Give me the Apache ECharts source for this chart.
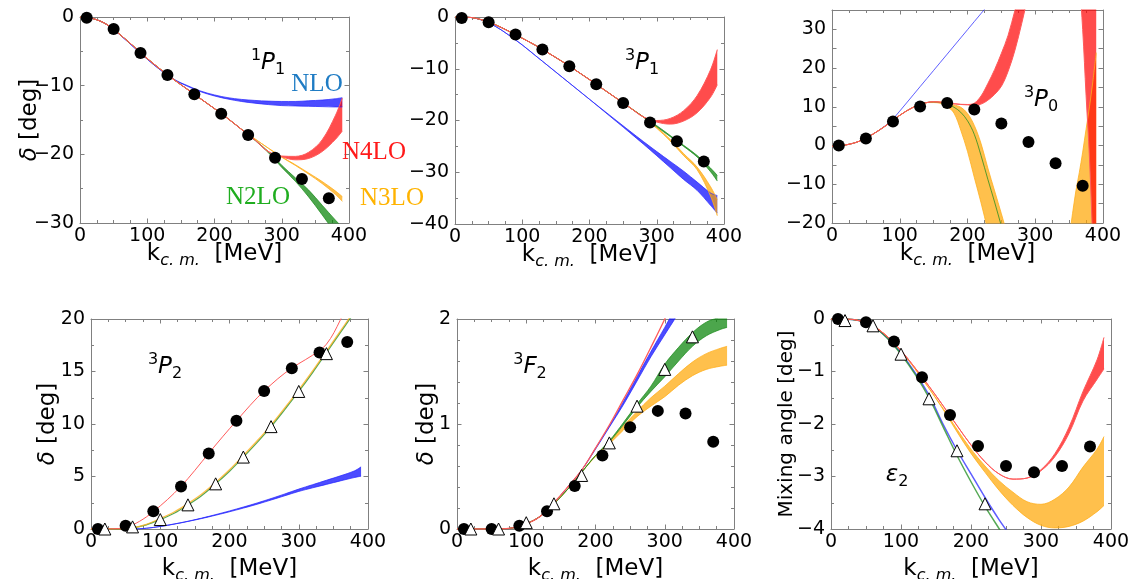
<!DOCTYPE html>
<html><head><meta charset="utf-8">
<script src="https://cdn.jsdelivr.net/npm/echarts@6/dist/echarts.min.js"></script>
<style>html,body{margin:0;padding:0;background:#fff}#c{width:1129px;height:579px}</style>
</head><body><div id="c"></div>
<script>
// ---------- data ----------
const X20 = [0,20,40,60,80,100,120,140,160,180,200,220,240,260,280,300,320,340,360,380,390];
const DOT_X = [10,50,90,130,170,210,250,290,330,370];
const TRI_X = [20,60,100,140,180,220,260,300,340];
const TRI_X6 = [20,60,100,140,180,220];

// 1P1
const P1_NLO_LO = [0,-0.25,-1.1,-2.65,-4.4,-6.15,-7.75,-9.1,-10.1,-10.9,-11.5,-11.95,-12.3,-12.55,-12.75,-12.9,-12.95,-13.0,-13.05,-13.1,-13.1];
const P1_NLO_HI = [0,-0.25,-1.1,-2.65,-4.4,-6.15,-7.75,-9.1,-10.0,-10.8,-11.35,-11.75,-12.0,-12.15,-12.25,-12.3,-12.3,-12.2,-12.1,-11.9,-11.75];
const P1_N2LO_LO = [0,-0.25,-1.1,-2.6,-4.3,-6.05,-7.65,-9.15,-10.55,-11.95,-13.35,-14.8,-16.35,-17.95,-19.75,-21.9,-23.9,-26.2,-28.8,-31.5,-32.8];
const P1_N2LO_HI = [0,-0.25,-1.1,-2.6,-4.3,-6.05,-7.65,-9.15,-10.55,-11.95,-13.35,-14.8,-16.35,-17.9,-19.6,-21.6,-23.4,-25.2,-27.4,-29.6,-30.6];
const P1_N3LO_LO = [0,-0.25,-1.1,-2.6,-4.3,-6.05,-7.65,-9.15,-10.55,-11.95,-13.35,-14.8,-16.35,-17.75,-19.1,-20.43,-21.6,-22.88,-24.25,-25.85,-26.85];
const P1_N3LO_HI = [0,-0.25,-1.1,-2.6,-4.3,-6.05,-7.65,-9.15,-10.55,-11.95,-13.35,-14.8,-16.35,-17.75,-19.1,-20.37,-21.5,-22.72,-23.95,-25.35,-26.15];
const P1_N4LO_LO = [0,-0.25,-1.1,-2.6,-4.3,-6.05,-7.65,-9.15,-10.55,-11.95,-13.35,-14.8,-16.35,-17.9,-19.6,-20.35,-20.8,-20.6,-19.6,-17.8,-16.6];
const P1_N4LO_HI = [0,-0.25,-1.1,-2.6,-4.3,-6.05,-7.65,-9.15,-10.55,-11.95,-13.35,-14.8,-16.35,-17.9,-19.6,-20.25,-20.3,-19.7,-17.9,-14.3,-11.8];
const P1_DOTS = [-0.1,-1.75,-5.24,-8.45,-11.26,-14.08,-17.2,-20.5,-23.6,-26.4];

// 3P1
const P2_NLO_LO = [0,-0.05,-0.6,-1.8,-3.5,-5.4,-7.5,-9.6,-11.7,-13.8,-15.9,-18.05,-20.2,-22.35,-24.55,-26.8,-29.1,-31.4,-33.5,-36.4,-37.9];
const P2_NLO_HI = [0,-0.05,-0.6,-1.8,-3.5,-5.4,-7.5,-9.6,-11.7,-13.8,-15.9,-17.95,-20.0,-22.05,-24.05,-26.0,-27.9,-29.8,-31.9,-34.0,-34.5];
const P2_N2LO_LO = [0,-0.05,-0.55,-1.5,-2.75,-4.1,-5.5,-7.05,-8.65,-10.35,-12.1,-13.9,-15.7,-17.5,-19.3,-21.2,-23.1,-25.0,-27.05,-29.9,-31.7];
const P2_N2LO_HI = [0,-0.05,-0.55,-1.5,-2.75,-4.1,-5.5,-7.05,-8.65,-10.35,-12.1,-13.9,-15.7,-17.5,-19.3,-21.0,-22.9,-24.8,-26.75,-29.2,-30.6];
const P2_N3LO_LO = [0,-0.05,-0.55,-1.5,-2.75,-4.1,-5.5,-7.05,-8.65,-10.35,-12.1,-13.9,-15.7,-17.5,-19.3,-21.5,-23.95,-26.8,-29.5,-34.6,-38.4];
const P2_N3LO_HI = [0,-0.05,-0.55,-1.5,-2.75,-4.1,-5.5,-7.05,-8.65,-10.35,-12.1,-13.9,-15.7,-17.5,-19.3,-21.3,-23.65,-26.4,-29.0,-32.8,-35.3];
const P2_N4LO_LO = [0,-0.05,-0.55,-1.5,-2.75,-4.1,-5.5,-7.05,-8.65,-10.35,-12.1,-13.9,-15.7,-17.5,-19.3,-20.3,-20.7,-20.1,-18.5,-15.5,-13.1];
const P2_N4LO_HI = [0,-0.05,-0.55,-1.5,-2.75,-4.1,-5.5,-7.05,-8.65,-10.35,-12.1,-13.9,-15.7,-17.5,-19.3,-20.0,-19.6,-18.1,-15.2,-10.2,-6.3];
const P2_DOTS = [-0.2,-1.0,-3.4,-6.3,-9.5,-13.0,-16.6,-20.4,-24.0,-27.9];

// 3P0
const P3_NLO_X = [0,20,40,60,80,90,100,120,140,160,180,200,220,240];
const P3_NLO = [-0.2,0.15,1.1,2.9,5.3,6.9,8.9,13.1,17.3,21.5,25.7,29.9,34.1,38.3];
const P3_N2LO_X = [0,20,40,60,80,100,120,140,150,160,170,180,190,200,210,220,230,240,250,260];
const P3_N2LO = [-0.2,0.15,1.1,2.9,5.2,7.8,9.9,11.1,11.25,11.1,10.7,9.9,8.6,6.4,2.9,-2.6,-8.7,-14.6,-20.8,-27];
const P3_N3LO_X = [0,20,40,60,80,100,120,140,150,160,170,180,190,200,210,220,230,240,250,260,280,300,320,340,350,355,360,365,370,375,380,385,390];
const P3_N3LO_LO = [-0.2,0.15,1.1,2.9,5.2,7.8,9.9,11.1,11.1,10.9,10.1,8.4,4.0,-1.5,-8.2,-14.8,-22,-30,-38,-46,-60,-70,-75,-78,-80,-80,-80,-80,-80,-80,-80,-80,-80];
const P3_N3LO_HI = [-0.2,0.15,1.1,2.9,5.2,7.8,9.9,11.1,11.3,11.25,11.0,10.5,9.9,8.3,5.2,0.5,-5.8,-11.7,-17.6,-23.6,-34,-40,-40,-31,-23.5,-17.6,-11.7,-7.0,-1.7,4.2,10.0,16.5,24];
const P3_N4LO_X = [0,20,40,60,80,100,120,140,150,160,170,180,190,200,210,220,230,240,250,260,270,280,290,300,320,340,350,360,365,370,375,380,385,390];
const P3_N4LO_LO = [-0.2,0.15,1.1,2.9,5.2,7.8,9.9,11.1,11.3,11.2,11.0,10.8,10.6,10.5,10.45,10.7,11.7,13.2,15.3,19.2,24.6,31.5,39,46,56,60,57,48,42,30,13,-3,-25,-45];
const P3_N4LO_HI = [-0.2,0.15,1.1,2.9,5.2,7.8,9.9,11.1,11.3,11.2,11.0,10.8,10.65,10.6,10.95,12.8,16.0,19.6,23.8,28.5,34.9,41,48,55,68,78,82,85,86,87,88,89,90,90];
const P3_DOTS = [0,1.8,6.2,10.1,11.0,9.3,5.7,0.9,-4.6,-10.4];

// 3P2
const P4_NLO_LO = [0,0,0,0,0.07,0.24,0.46,0.72,1.0,1.31,1.64,1.99,2.36,2.76,3.17,3.58,3.92,4.25,4.58,4.9,5.03];
const P4_NLO_HI = [0,0,0,0,0.07,0.25,0.48,0.74,1.04,1.37,1.72,2.09,2.48,2.9,3.34,3.8,4.22,4.64,5.06,5.52,5.92];
const P4_N2LO = [0,0,0,0.1,0.4,0.9,1.5,2.3,3.2,4.3,5.5,6.85,8.25,9.75,11.4,13.1,14.9,16.8,18.7,20.6,21.6];
const P4_N3LO = [0,0,0,0.12,0.45,1.0,1.62,2.42,3.33,4.44,5.65,7.0,8.4,9.9,11.55,13.25,15.05,16.95,18.85,20.75,21.75];
const P4_N4LO = [0,0,0.05,0.4,1.15,2.2,3.4,4.8,6.4,8.0,9.55,11.05,12.5,13.75,14.85,15.75,16.55,17.6,19.9,23,25];
const P4_DOTS = [0,0.3,1.7,4.05,7.2,10.3,13.15,15.3,16.8,17.8];
const P4_TRI = [0,0.2,0.9,2.3,4.3,6.85,9.75,13.1,16.7];

// 3F2
const P5_NLO_LO = [0,0,0,0,0.01,0.05,0.12,0.25,0.4,0.56,0.76,0.97,1.18,1.41,1.64,1.85,2.06,2.3,2.5,2.7,2.8];
const P5_NLO_HI = [0,0,0,0,0.01,0.05,0.12,0.25,0.4,0.56,0.77,0.98,1.21,1.45,1.69,1.92,2.16,2.4,2.6,2.8,2.9];
const P5_N2LO_LO = [0,0,0,0,0.01,0.05,0.12,0.24,0.38,0.54,0.7,0.83,0.99,1.16,1.31,1.45,1.6,1.74,1.84,1.9,1.92];
const P5_N2LO_HI = [0,0,0,0,0.01,0.05,0.12,0.24,0.38,0.54,0.7,0.84,1.01,1.19,1.36,1.57,1.73,1.87,1.97,2.02,2.05];
const P5_N3LO_LO = [0,0,0,0,0.01,0.05,0.12,0.24,0.38,0.54,0.69,0.81,0.94,1.07,1.17,1.26,1.37,1.46,1.52,1.55,1.56];
const P5_N3LO_HI = [0,0,0,0,0.01,0.05,0.12,0.24,0.38,0.54,0.7,0.83,0.98,1.12,1.25,1.36,1.48,1.59,1.67,1.72,1.74];
const P5_N4LO = [0,0,0,0,0.01,0.05,0.12,0.25,0.4,0.56,0.77,0.99,1.23,1.47,1.73,2.0,2.3,2.6,2.9,3.2,3.35];
const P5_DOTS = [0,0,0.03,0.17,0.41,0.70,0.97,1.125,1.10,0.83];
const P5_TRI = [0,0,0.06,0.24,0.51,0.82,1.17,1.52,1.83];

// epsilon2
const P6_NLO = [0,0,-0.03,-0.14,-0.35,-0.65,-1.02,-1.45,-2.0,-2.5,-2.95,-3.4,-3.82,-4.2,-4.6,-5,-5.4,-5.8,-6.2,-6.6,-6.8];
const P6_N2LO = [0,0,-0.03,-0.14,-0.36,-0.67,-1.05,-1.5,-2.05,-2.6,-3.1,-3.57,-3.99,-4.4,-4.8,-5.2,-5.6,-6,-6.4,-6.8,-7];
const P6_N3LO_LO = [0,0,-0.03,-0.13,-0.33,-0.61,-0.95,-1.32,-1.72,-2.15,-2.56,-2.92,-3.26,-3.55,-3.78,-3.93,-3.98,-3.95,-3.85,-3.67,-3.55];
const P6_N3LO_HI = [0,0,-0.03,-0.13,-0.33,-0.61,-0.95,-1.32,-1.7,-2.1,-2.48,-2.8,-3.08,-3.3,-3.48,-3.53,-3.43,-3.2,-2.82,-2.48,-2.24];
const P6_N4LO_LO = [0,0,-0.03,-0.13,-0.33,-0.6,-0.93,-1.28,-1.65,-2.03,-2.4,-2.72,-2.95,-3.05,-3.03,-2.89,-2.62,-2.18,-1.56,-1.15,-0.95];
const P6_N4LO_HI = [0,0,-0.03,-0.13,-0.33,-0.6,-0.93,-1.28,-1.65,-2.03,-2.4,-2.72,-2.95,-3.05,-3.03,-2.87,-2.56,-2.06,-1.38,-0.78,-0.35];
const P6_DOTS = [0,-0.06,-0.43,-1.11,-1.83,-2.42,-2.80,-2.92,-2.80,-2.43];
const P6_TRI = [-0.03,-0.13,-0.67,-1.52,-2.51,-3.52];

// ---------- styling ----------
const FONT = 'DejaVu Sans';
const AXC = '#808080';
const COL = {nlo:'rgba(0,0,255,0.7)', n2lo:'rgba(0,128,0,0.7)', n3lo:'rgba(255,165,0,0.7)', n4lo:'rgba(255,0,0,0.7)'};
const EDGE = {nlo:'rgba(40,40,255,0.75)', n2lo:'rgba(30,140,30,0.75)', n3lo:'rgba(255,175,30,0.8)', n4lo:'#ff5a5a'};

const PANELS = [
  {grid:{left:80,top:17,width:269,height:206}, ymin:-30, ymax:0, yint:10, ysplit:2, xGap:16, yName:'{i|δ} [deg]', yGap:38, ySize:23},
  {grid:{left:455,top:17,width:269,height:207}, ymin:-40, ymax:0, yint:10, ysplit:2, xGap:16, yName:'', yGap:0, ySize:23},
  {grid:{left:832,top:10,width:271,height:213}, ymin:-20, ymax:35, yint:5, ysplit:0, labelEvery:10, xGap:16, yName:'', yGap:0, ySize:23},
  {grid:{left:91,top:319,width:277,height:210}, ymin:0, ymax:20, yint:5, ysplit:2, xGap:25, yName:'{i|δ} [deg]', yGap:31, ySize:23},
  {grid:{left:457,top:319,width:277,height:210}, ymin:0, ymax:2, yint:1, ysplit:5, xGap:25, yName:'{i|δ} [deg]', yGap:18, ySize:23},
  {grid:{left:831,top:319,width:280,height:210}, ymin:-4, ymax:0, yint:1, ysplit:2, xGap:25, yName:'Mixing angle [deg]', yGap:34, ySize:20}
];

function fmtNum(v){ return v < 0 ? '\u2212' + String(Math.abs(v)) : String(v); }

const grids = [], xAxes = [], yAxes = [];
PANELS.forEach((p, g) => {
  grids.push(Object.assign({containLabel:false, outerBoundsMode:'none'}, p.grid));
  const tick = () => ({show:true, inside:true, length:4.5, lineStyle:{color:AXC, width:1}});
  const line = () => ({show:true, onZero:false, lineStyle:{color:AXC, width:1}});
  const xBase = () => ({type:'value', gridIndex:g, min:0, max:400, interval:100,
    splitLine:{show:false}, minorSplitLine:{show:false}, axisLine:line(), axisTick:tick(),
    minorTick:{show:true, splitNumber:4, length:3, lineStyle:{color:AXC, width:1}}});
  xAxes.push(Object.assign(xBase(), {position:'bottom',
    axisLabel:{show:true, fontFamily:FONT, fontSize:19, color:'#000', margin:4, formatter:fmtNum},
    name:'k{s|c. m.}  [MeV]', nameLocation:'middle', nameGap:p.xGap, nameMoveOverlap:false,
    nameTextStyle:{fontFamily:FONT, fontSize:23, color:'#000', lineHeight:30,
      rich:{s:{fontFamily:FONT, fontStyle:'italic', fontSize:16, lineHeight:30, verticalAlign:'bottom', color:'#000'}}}}));
  xAxes.push(Object.assign(xBase(), {position:'top', axisLabel:{show:false}}));
  const yBase = () => ({type:'value', gridIndex:g, min:p.ymin, max:p.ymax, interval:p.yint,
    splitLine:{show:false}, minorSplitLine:{show:false}, axisLine:line(), axisTick:tick(),
    minorTick:{show:p.ysplit > 0, splitNumber:p.ysplit || 2, length:3, lineStyle:{color:AXC, width:1}}});
  const every = p.labelEvery;
  yAxes.push(Object.assign(yBase(), {position:'left',
    axisLabel:{show:true, fontFamily:FONT, fontSize:19, color:'#000', margin:6,
      formatter: v => (every && Math.abs(v % every) > 1e-9) ? '' : fmtNum(v)},
    name:p.yName, nameLocation:'middle', nameGap:p.yGap, nameMoveOverlap:false,
    nameTextStyle:{fontFamily:FONT, fontSize:p.ySize, color:'#000',
      rich:{i:{fontFamily:FONT, fontStyle:'italic', fontSize:p.ySize, color:'#000'}}}}));
  yAxes.push(Object.assign(yBase(), {position:'right', axisLabel:{show:false}}));
});

const series = [];
let stackId = 0;
// bands: data given as [value, k] with encode so the stacked dimension is the value (y)
function band(g, xs, lo, hi, key){
  const id = 'b' + (stackId++);
  const common = {type:'line', xAxisIndex:2*g, yAxisIndex:2*g, stack:id, stackStrategy:'all',
    encode:{x:1, y:0}, symbol:'none', smooth:0.35, silent:true, lineStyle:{color:EDGE[key], width:1}};
  series.push(Object.assign({}, common, {data: xs.map((x,i)=>[lo[i], x])}));
  series.push(Object.assign({}, common, {data: xs.map((x,i)=>[hi[i]-lo[i], x]),
    areaStyle:{color:COL[key], opacity:1}}));
}
function curve(g, xs, ys, key, w){
  series.push({type:'line', xAxisIndex:2*g, yAxisIndex:2*g, symbol:'none', smooth:0.35, silent:true,
    data: xs.map((x,i)=>[x, ys[i]]), lineStyle:{color:EDGE[key], width:w || 1.2}});
}
function dots(g, xs, ys){
  series.push({type:'scatter', xAxisIndex:2*g, yAxisIndex:2*g, clip:false, symbol:'circle', symbolSize:12,
    data: xs.map((x,i)=>[x, ys[i]]), itemStyle:{color:'#000', opacity:1}, z:5, silent:true});
}
function tris(g, xs, ys){
  series.push({type:'scatter', xAxisIndex:2*g, yAxisIndex:2*g, clip:false, symbol:'triangle', symbolSize:12,
    data: xs.map((x,i)=>[x, ys[i]]), itemStyle:{color:'#fff', borderColor:'#000', borderWidth:1, opacity:1}, z:6, silent:true});
}

// panel 1
band(0, X20, P1_NLO_LO, P1_NLO_HI, 'nlo');
band(0, X20, P1_N3LO_LO, P1_N3LO_HI, 'n3lo');
band(0, X20, P1_N2LO_LO, P1_N2LO_HI, 'n2lo');
band(0, X20, P1_N4LO_LO, P1_N4LO_HI, 'n4lo');
dots(0, DOT_X, P1_DOTS);
// panel 2
band(1, X20, P2_NLO_LO, P2_NLO_HI, 'nlo');
band(1, X20, P2_N3LO_LO, P2_N3LO_HI, 'n3lo');
band(1, X20, P2_N2LO_LO, P2_N2LO_HI, 'n2lo');
band(1, X20, P2_N4LO_LO, P2_N4LO_HI, 'n4lo');
dots(1, DOT_X, P2_DOTS);
// panel 3
curve(2, P3_NLO_X, P3_NLO, 'nlo', 1);
band(2, P3_N3LO_X, P3_N3LO_LO, P3_N3LO_HI, 'n3lo');
curve(2, P3_N2LO_X, P3_N2LO, 'n2lo', 1);
band(2, P3_N4LO_X, P3_N4LO_LO, P3_N4LO_HI, 'n4lo');
dots(2, DOT_X, P3_DOTS);
// panel 4
band(3, X20, P4_NLO_LO, P4_NLO_HI, 'nlo');
curve(3, X20, P4_N2LO, 'n2lo', 1.3);
curve(3, X20, P4_N3LO, 'n3lo', 1.3);
curve(3, X20, P4_N4LO, 'n4lo', 1);
dots(3, DOT_X, P4_DOTS);
tris(3, TRI_X, P4_TRI);
// panel 5
band(4, X20, P5_NLO_LO, P5_NLO_HI, 'nlo');
band(4, X20, P5_N3LO_LO, P5_N3LO_HI, 'n3lo');
band(4, X20, P5_N2LO_LO, P5_N2LO_HI, 'n2lo');
curve(4, X20, P5_N4LO, 'n4lo', 1.3);
dots(4, DOT_X, P5_DOTS);
tris(4, TRI_X, P5_TRI);
// panel 6
curve(5, X20, P6_NLO, 'nlo', 1.5);
band(5, X20, P6_N3LO_LO, P6_N3LO_HI, 'n3lo');
curve(5, X20, P6_N2LO, 'n2lo', 1.5);
band(5, X20, P6_N4LO_LO, P6_N4LO_HI, 'n4lo');
dots(5, DOT_X, P6_DOTS);
tris(5, TRI_X6, P6_TRI);

const RICH = {
  it:{fontFamily:FONT, fontStyle:'italic', fontSize:23, lineHeight:30, fill:'#000'},
  sup:{fontFamily:FONT, fontSize:16, lineHeight:30, verticalAlign:'top', fill:'#000'},
  sub:{fontFamily:FONT, fontSize:16, lineHeight:30, verticalAlign:'bottom', fill:'#000'}
};
function ann(x, y, text){
  return {type:'text', x:x, y:y, z:100, silent:true,
    style:{text:text, rich:RICH, fontFamily:FONT, fontSize:23, fill:'#000', align:'center', verticalAlign:'middle'}};
}
function leg(x, y, text, color){
  return {type:'text', x:x, y:y, z:100, silent:true,
    style:{text:text, fontFamily:'Liberation Serif', fontSize:25, fill:color, align:'center', verticalAlign:'middle'}};
}

const chart = echarts.init(document.getElementById('c'), null, {renderer:'canvas'});
chart.setOption({
  animation:false,
  backgroundColor:'#fff',
  grid:grids, xAxis:xAxes, yAxis:yAxes, series:series,
  graphic:[
    ann(268, 63, '{sup|1}{it|P}{sub|1}'),
    ann(642, 63, '{sup|3}{it|P}{sub|1}'),
    ann(1041, 100, '{sup|3}{it|P}{sub|0}'),
    ann(165, 367, '{sup|3}{it|P}{sub|2}'),
    ann(530, 367, '{sup|3}{it|F}{sub|2}'),
    ann(897, 475, '{it|ε}{sub|2}'),
    leg(317, 84, 'NLO', '#1f7cc4'),
    leg(374, 152, 'N4LO', '#ff1a1a'),
    leg(258, 197, 'N2LO', '#1fad1f'),
    leg(392, 198, 'N3LO', '#ffb300')
  ]
});
</script></body></html>
